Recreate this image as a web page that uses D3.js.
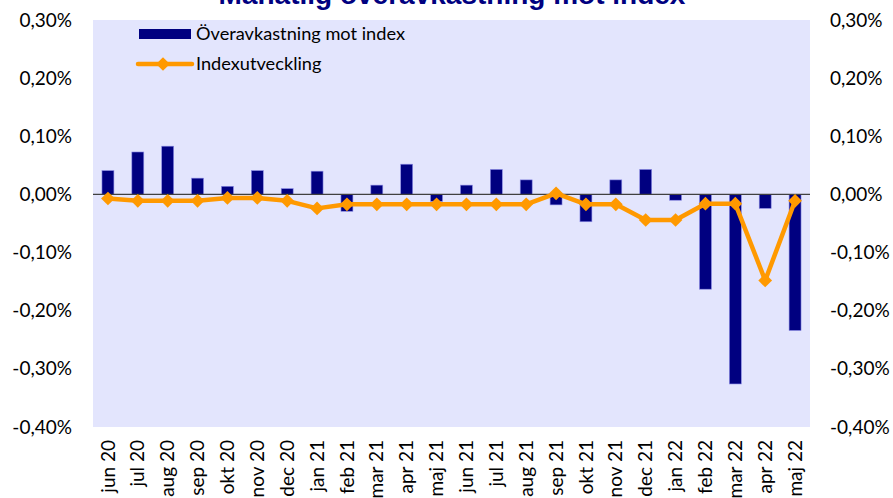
<!DOCTYPE html>
<html>
<head>
<meta charset="utf-8">
<script src="https://cdn.jsdelivr.net/npm/d3@7/dist/d3.min.js"></script>
<style>
  html, body { margin: 0; padding: 0; background: #ffffff; }
  svg { display: block; }
</style>
</head>
<body>
<svg id="chart" width="893" height="498"></svg>
<script>
// Monthly excess return vs. index (bars) and index development (line), in percent
const months = ["jun 20","jul 20","aug 20","sep 20","okt 20","nov 20","dec 20",
  "jan 21","feb 21","mar 21","apr 21","maj 21","jun 21","jul 21","aug 21","sep 21",
  "okt 21","nov 21","dec 21","jan 22","feb 22","mar 22","apr 22","maj 22"];
const excessReturn = [0.041, 0.073, 0.083, 0.028, 0.014, 0.041, 0.010,
  0.040, -0.029, 0.016, 0.052, -0.012, 0.016, 0.043, 0.025, -0.018,
  -0.047, 0.025, 0.043, -0.010, -0.163, -0.326, -0.024, -0.234];
const indexChange = [-0.007, -0.011, -0.011, -0.011, -0.006, -0.006, -0.011,
  -0.024, -0.017, -0.017, -0.017, -0.017, -0.017, -0.017, -0.017, 0.002,
  -0.017, -0.017, -0.044, -0.044, -0.016, -0.016, -0.148, -0.011];
const yTicks = [0.30, 0.20, 0.10, 0.00, -0.10, -0.20, -0.30, -0.40];
const titleText = "Månatlig överavkastning mot index";
const seriesNames = ["Överavkastning mot index", "Indexutveckling"];

const svg = d3.select("#chart");
const plot = { left: 93, right: 810, top: 20, bottom: 427 };
const labelFont = "Lato, 'Open Sans', sans-serif";
const navy = "#000080";
const orange = "#FF9900";

const x = d3.scaleBand().domain(months).range([plot.left, plot.right]).paddingInner(0.6).paddingOuter(0.3);
const xc = d => x(d) + x.bandwidth() / 2;
const y = d3.scaleLinear().domain([-0.40, 0.30]).range([plot.bottom, plot.top]);

const fmt = v => (v < 0 ? "-" : "") + Math.abs(v).toFixed(2).replace(".", ",") + "%";

// plot background
svg.append("rect")
  .attr("x", plot.left).attr("y", plot.top)
  .attr("width", plot.right - plot.left).attr("height", plot.bottom - plot.top)
  .attr("fill", "#E3E5FD");

// title, sitting at the very top edge
svg.append("text")
  .attr("x", (plot.left + plot.right) / 2 + 0.5).attr("y", 4)
  .attr("text-anchor", "middle")
  .attr("font-family", "'Liberation Sans', Arial, sans-serif")
  .attr("font-weight", "bold")
  .attr("font-size", 28)
  .attr("fill", navy)
  .text(titleText);

// y axes (left and right) drawn with d3 axes, lines hidden
const yAxisL = d3.axisLeft(y).tickValues(yTicks).tickFormat(fmt).tickSize(0).tickPadding(21);
const yAxisR = d3.axisRight(y).tickValues(yTicks).tickFormat(fmt).tickSize(0).tickPadding(20);
[ [yAxisL, plot.left], [yAxisR, plot.right] ].forEach(([ax, pos]) => {
  const g = svg.append("g").attr("transform", `translate(${pos},0)`).call(ax);
  g.select(".domain").remove();
  g.selectAll("text").attr("font-family", labelFont).attr("font-size", 19).attr("fill", "#000");
});

// x axis with rotated month labels
const xAxis = d3.axisBottom(x).tickSize(0).tickPadding(0);
const gx = svg.append("g").attr("transform", `translate(0,${plot.bottom})`).call(xAxis);
gx.select(".domain").remove();
gx.selectAll("text")
  .attr("font-family", labelFont).attr("font-size", 19).attr("fill", "#000")
  .attr("text-anchor", "end")
  .attr("dy", "0.35em")
  .attr("transform", "translate(0,13) rotate(-90)")
  .attr("x", 0).attr("y", 0);

// bars
svg.append("g").selectAll("rect")
  .data(months.map((m, i) => ({ m, v: excessReturn[i] })))
  .join("rect")
  .attr("x", d => x(d.m))
  .attr("y", d => y(Math.max(0, d.v)))
  .attr("width", x.bandwidth())
  .attr("height", d => Math.abs(y(d.v) - y(0)))
  .attr("fill", navy)
  .attr("stroke", "#8C8CE6")
  .attr("stroke-width", 0.6);

// zero line
svg.append("line")
  .attr("x1", plot.left).attr("x2", plot.right)
  .attr("y1", y(0)).attr("y2", y(0))
  .attr("stroke", "#404040").attr("stroke-width", 1.3);

// index line with diamond markers
const pts = months.map((m, i) => [xc(m), y(indexChange[i])]);
svg.append("path")
  .attr("d", d3.line()(pts))
  .attr("fill", "none")
  .attr("stroke", orange)
  .attr("stroke-width", 4.5)
  .attr("stroke-linejoin", "round");
const diamond = d3.symbol().type(d3.symbolDiamond2).size(120);
svg.append("g").selectAll("path")
  .data(pts)
  .join("path")
  .attr("transform", d => `translate(${d[0]},${d[1]})`)
  .attr("d", diamond())
  .attr("fill", orange);

// legend
const lg = svg.append("g");
lg.append("rect").attr("x", 139).attr("y", 29).attr("width", 52).attr("height", 10).attr("fill", navy);
lg.append("line").attr("x1", 138).attr("x2", 192).attr("y1", 64).attr("y2", 64)
  .attr("stroke", orange).attr("stroke-width", 4.5).attr("stroke-linecap", "round");
lg.append("path").attr("transform", "translate(163,64)").attr("d", diamond()).attr("fill", orange);
lg.selectAll("text").data(seriesNames).join("text")
  .attr("x", 196).attr("y", (d, i) => 34 + i * 30)
  .attr("dy", "0.35em")
  .attr("font-family", labelFont).attr("font-size", 18.2).attr("fill", "#000")
  .text(d => d);
</script>
</body>
</html>
